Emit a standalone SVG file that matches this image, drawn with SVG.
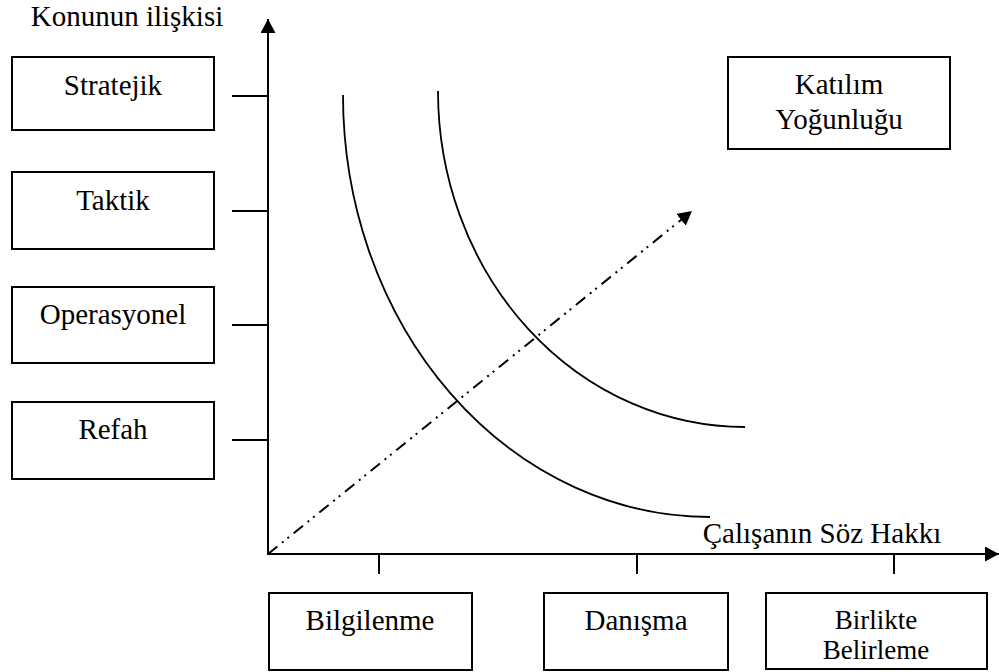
<svg xmlns="http://www.w3.org/2000/svg" width="999" height="672" viewBox="0 0 999 672">
<style>
  .box { fill: #fff; stroke: #000; stroke-width: 2; }
  .t { font-family: 'Liberation Serif', 'Times New Roman', serif; font-size: 29px; fill: #000; text-anchor: middle; }
  .ts { font-size: 27px; }
  .ax { stroke: #000; stroke-width: 2; fill: none; }
  .tick { stroke: #000; stroke-width: 2; fill: none; }
  .curve { stroke: #000; stroke-width: 1.8; fill: none; }
  .dd { stroke: #000; stroke-width: 2; fill: none; stroke-dasharray: 12 6 2 5 2 6; }
</style>
<defs>
  <marker id="arr" viewBox="0 0 14 15" refX="14" refY="7.5" markerWidth="14" markerHeight="15" markerUnits="userSpaceOnUse" orient="auto">
    <path d="M0,0 L14,7.5 L0,15 z" fill="#000"/>
  </marker>
</defs>
<rect width="999" height="672" fill="#fff"/>
<g id="connectors">
  <line class="ax" x1="268" y1="555" x2="268" y2="19" marker-end="url(#arr)"/>
  <line class="ax" x1="267" y1="554" x2="999" y2="554" marker-end="url(#arr)"/>
  <line class="tick" x1="232" y1="96" x2="268" y2="96"/>
  <line class="tick" x1="232" y1="211" x2="268" y2="211"/>
  <line class="tick" x1="232" y1="325" x2="268" y2="325"/>
  <line class="tick" x1="232" y1="440" x2="268" y2="440"/>
  <line class="tick" x1="379" y1="554" x2="379" y2="574"/>
  <line class="tick" x1="637" y1="554" x2="637" y2="574"/>
  <line class="tick" x1="894" y1="554" x2="894" y2="574"/>
  <path class="curve" d="M343,95 A367,422 0 0 0 710,517"/>
  <path class="curve" d="M438,91 A307,336 0 0 0 745,427"/>
  <line class="dd" x1="268" y1="554" x2="692" y2="211" marker-end="url(#arr)"/>
</g>
<g id="axis-y-label"><text class="t" x="127" y="26">Konunun ilişkisi</text></g>
<g id="axis-x-label"><text class="t" x="822" y="543">Çalışanın Söz Hakkı</text></g>
<g id="stratejik"><rect class="box" x="12" y="57" width="202" height="73"/><text class="t" x="113" y="95">Stratejik</text></g>
<g id="taktik"><rect class="box" x="12" y="172" width="202" height="77"/><text class="t" x="113" y="210">Taktik</text></g>
<g id="operasyonel"><rect class="box" x="12" y="287" width="202" height="76"/><text class="t" x="113" y="324">Operasyonel</text></g>
<g id="refah"><rect class="box" x="12" y="402" width="202" height="77"/><text class="t" x="113" y="439">Refah</text></g>
<g id="katilim"><rect class="box" x="728" y="57" width="222" height="92"/><text class="t" x="839" y="94">Katılım</text><text class="t" x="839" y="129">Yoğunluğu</text></g>
<g id="bilgilenme"><rect class="box" x="269" y="593" width="203" height="77"/><text class="t" x="370" y="630">Bilgilenme</text></g>
<g id="danisma"><rect class="box" x="544" y="593" width="184" height="77"/><text class="t" x="636" y="630">Danışma</text></g>
<g id="birlikte"><rect class="box" x="766" y="593" width="221" height="76"/><text class="t ts" x="876" y="629">Birlikte</text><text class="t ts" x="876" y="659">Belirleme</text></g>
</svg>
